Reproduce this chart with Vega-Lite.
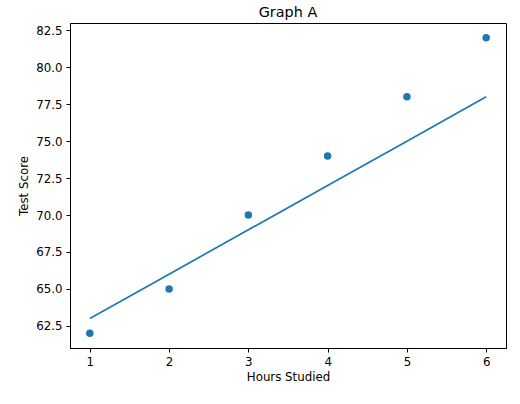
{
  "$schema": "https://vega.github.io/schema/vega-lite/v6.json",
  "width": 436,
  "height": 325,
  "autosize": {"type": "none"},
  "padding": {"left": 70, "top": 23, "right": 14, "bottom": 56},
  "title": {
    "text": "Graph A",
    "fontSize": 14.4,
    "fontWeight": "normal",
    "font": "DejaVu Sans",
    "color": "black",
    "offset": 3
  },
  "data": {
    "values": [
      {"hours": 1, "score": 62, "fit": 63},
      {"hours": 2, "score": 65, "fit": 66},
      {"hours": 3, "score": 70, "fit": 69},
      {"hours": 4, "score": 74, "fit": 72},
      {"hours": 5, "score": 78, "fit": 75},
      {"hours": 6, "score": 82, "fit": 78}
    ]
  },
  "encoding": {
    "x": {
      "field": "hours",
      "type": "quantitative",
      "title": "Hours Studied",
      "scale": {"domain": [0.75, 6.25], "nice": false, "zero": false},
      "axis": {"values": [1, 2, 3, 4, 5, 6], "format": "d", "titlePadding": 4}
    }
  },
  "layer": [
    {
      "mark": {"type": "point", "filled": true, "size": 56, "opacity": 1, "color": "#1f77b4"},
      "encoding": {
        "y": {
          "field": "score",
          "type": "quantitative",
          "title": "Test Score",
          "scale": {"domain": [61, 83], "nice": false, "zero": false},
          "axis": {"values": [62.5, 65, 67.5, 70, 72.5, 75, 77.5, 80, 82.5], "format": ".1f", "titlePadding": 6}
        }
      }
    },
    {
      "mark": {"type": "line", "color": "#1f77b4", "strokeWidth": 1.7},
      "encoding": {
        "y": {"field": "fit", "type": "quantitative"}
      }
    }
  ],
  "config": {
    "font": "DejaVu Sans",
    "view": {"stroke": "black", "strokeWidth": 1},
    "axis": {
      "grid": false,
      "domainColor": "black",
      "tickColor": "black",
      "tickSize": 4,
      "labelFont": "DejaVu Sans",
      "labelFontSize": 11.8,
      "labelColor": "black",
      "labelPadding": 4,
      "titleFont": "DejaVu Sans",
      "titleFontSize": 11.8,
      "titleFontWeight": "normal",
      "titleColor": "black"
    }
  }
}
